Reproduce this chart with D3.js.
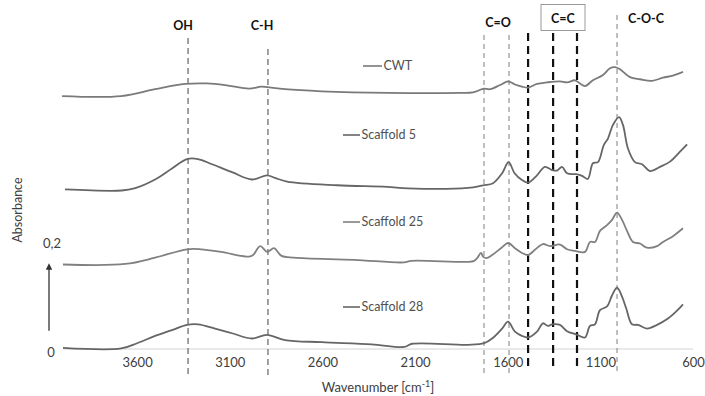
<!DOCTYPE html>
<html><head><meta charset="utf-8">
<script src="https://cdn.jsdelivr.net/npm/d3@7"></script>
<style>body{margin:0;background:#fff}svg{display:block}</style>
</head><body><svg id="c" width="705" height="396"></svg>
<script>
// ---- data ----
const seriesNames = ["CWT", "Scaffold 5", "Scaffold 25", "Scaffold 28"];
const cwt = [[4005,0.482],[3686,0.482],[3503,0.495],[3341,0.505],[3223,0.506],[3110,0.502],[2996,0.496],[2931,0.500],[2898,0.499],[2802,0.495],[2604,0.491],[2246,0.488],[1858,0.488],[1787,0.489],[1739,0.495],[1727,0.496],[1695,0.495],[1641,0.503],[1598,0.510],[1561,0.504],[1523,0.500],[1490,0.498],[1442,0.505],[1388,0.508],[1318,0.510],[1280,0.508],[1237,0.512],[1210,0.506],[1183,0.501],[1140,0.512],[1086,0.522],[1048,0.535],[1021,0.537],[994,0.533],[940,0.518],[886,0.514],[821,0.511],[762,0.517],[708,0.521],[654,0.528]];
const scaffold5 = [[3989,0.304],[3683,0.302],[3615,0.306],[3503,0.323],[3412,0.344],[3331,0.362],[3271,0.362],[3196,0.352],[3088,0.337],[2980,0.323],[2899,0.331],[2856,0.326],[2791,0.319],[2521,0.312],[2251,0.309],[2138,0.306],[1814,0.307],[1733,0.312],[1679,0.316],[1630,0.335],[1595,0.356],[1563,0.335],[1523,0.322],[1490,0.317],[1442,0.331],[1399,0.347],[1361,0.341],[1334,0.340],[1307,0.347],[1280,0.335],[1231,0.333],[1199,0.330],[1168,0.324],[1140,0.354],[1113,0.356],[1081,0.389],[1059,0.401],[1032,0.427],[999,0.442],[978,0.427],[951,0.382],[913,0.356],[875,0.352],[832,0.339],[778,0.347],[724,0.357],[670,0.376],[632,0.390]];
const scaffold25 = [[4000,0.161],[3664,0.162],[3503,0.174],[3330,0.190],[3255,0.190],[3147,0.185],[2996,0.176],[2974,0.179],[2936,0.196],[2898,0.185],[2861,0.192],[2823,0.178],[2753,0.174],[2429,0.170],[2159,0.165],[2121,0.168],[1814,0.166],[1781,0.168],[1765,0.173],[1744,0.183],[1733,0.176],[1716,0.173],[1684,0.179],[1630,0.194],[1598,0.202],[1561,0.192],[1523,0.183],[1490,0.179],[1453,0.189],[1410,0.200],[1372,0.196],[1318,0.199],[1280,0.190],[1237,0.187],[1183,0.185],[1156,0.204],[1129,0.204],[1102,0.225],[1064,0.236],[1037,0.246],[1010,0.260],[983,0.246],[956,0.225],[924,0.204],[886,0.201],[848,0.193],[794,0.196],[762,0.204],[708,0.215],[654,0.230]];
const scaffold28 = [[4000,0.002],[3686,0.001],[3600,0.011],[3503,0.025],[3412,0.036],[3331,0.046],[3271,0.047],[3180,0.039],[3088,0.030],[2980,0.020],[2899,0.027],[2802,0.017],[2604,0.013],[2334,0.009],[2159,0.004],[2116,0.010],[1814,0.008],[1727,0.011],[1684,0.020],[1630,0.039],[1598,0.052],[1561,0.033],[1523,0.025],[1490,0.022],[1442,0.033],[1410,0.049],[1383,0.044],[1361,0.047],[1318,0.046],[1280,0.034],[1231,0.028],[1183,0.022],[1156,0.044],[1129,0.047],[1102,0.074],[1064,0.081],[1037,0.102],[1010,0.117],[983,0.100],[961,0.078],[929,0.047],[897,0.046],[848,0.039],[794,0.046],[735,0.058],[686,0.073],[654,0.085]];
const xTicks = [3600, 3100, 2600, 2100, 1600, 1100, 600];
const scaleBarValues = [0, 0.2];
const scaleBarLabels = ["0", "0,2"];
const bandLabels = ["OH", "C-H", "C=O", "C=C", "C-O-C"];
const bandLines = [3325, 2894, 1728, 1593, 1490, 1355, 1226, 1010];

// ---- chart ----
const svg = d3.select("#c");
const font = "Lato, 'Open Sans', sans-serif";
const x = d3.scaleLinear().domain([4000, 600]).range([63, 693]);
const y = d3.scaleLinear().domain([0, 0.665]).range([349, 0]);

// axis baseline
svg.append("line").attr("x1", x(4000)).attr("x2", x(600)).attr("y1", y(0)).attr("y2", y(0))
  .attr("stroke", "#d4d4d4").attr("stroke-width", 1.2);

// x tick labels via axis
const xAxis = d3.axisBottom(x).tickValues(xTicks).tickSize(0).tickPadding(0).tickFormat(d3.format("d"));
const gx = svg.append("g").attr("transform", `translate(0,${y(0) + 14})`).call(xAxis);
gx.select(".domain").remove();
gx.selectAll("text").attr("font-family", font).attr("font-size", 13).attr("fill", "#404040").attr("dy", "0.32em");

// x title
const xt = svg.append("text").attr("x", 378).attr("y", 392).attr("text-anchor", "middle")
  .attr("font-family", font).attr("font-size", 13).attr("fill", "#404040");
xt.append("tspan").text("Wavenumber [cm");
xt.append("tspan").attr("font-size", 9).attr("dy", -5).text("-1");
xt.append("tspan").attr("dy", 5).text("]");

// y title
svg.append("text").attr("transform", "translate(22,210) rotate(-90)").attr("text-anchor", "middle")
  .attr("font-family", font).attr("font-size", 12.5).attr("fill", "#404040").text("Absorbance");

// scale bar labels + arrow
scaleBarValues.forEach((v, i) => {
  svg.append("text").attr("x", i === 0 ? 51 : 52).attr("y", y(v) + (i === 0 ? 4 : 0))
    .attr("text-anchor", "middle").attr("dy", "0.32em")
    .attr("font-family", font).attr("font-size", 13).attr("fill", "#404040").text(scaleBarLabels[i]);
});
svg.append("defs").append("marker").attr("id", "ah").attr("viewBox", "0 0 10 10")
  .attr("refX", 5).attr("refY", 5).attr("markerWidth", 5).attr("markerHeight", 5).attr("orient", "auto")
  .append("path").attr("d", "M0,0 L10,5 L0,10 z").attr("fill", "#333");
svg.append("line").attr("x1", 49).attr("x2", 49).attr("y1", y(0.035)).attr("y2", y(0.157))
  .attr("stroke", "#333").attr("stroke-width", 1.3).attr("marker-end", "url(#ah)");

// vertical band lines
const lineStyles = [
  {y1: 38, y2: 375, c: "#8a8a8a", w: 1.6, d: "6,4"},
  {y1: 49, y2: 375, c: "#8a8a8a", w: 1.6, d: "6,4"},
  {y1: 35, y2: 373, c: "#8a8a8a", w: 1.1, d: "5,4"},
  {y1: 35, y2: 373, c: "#8a8a8a", w: 1.1, d: "5,4"},
  {y1: 33, y2: 370, c: "#111", w: 2.2, d: "8,5"},
  {y1: 33, y2: 370, c: "#111", w: 2.2, d: "8,5"},
  {y1: 33, y2: 370, c: "#111", w: 2.2, d: "8,5"},
  {y1: 15, y2: 373, c: "#8a8a8a", w: 1.1, d: "5,4"}
];
bandLines.forEach((w, i) => {
  const s = lineStyles[i];
  svg.append("line").attr("x1", x(w)).attr("x2", x(w)).attr("y1", s.y1).attr("y2", s.y2)
    .attr("stroke", s.c).attr("stroke-width", s.w).attr("stroke-dasharray", s.d);
});

// band labels
const labelPos = [[183, 30], [262, 30], [498, 27], [563, 23], [646, 23]];
bandLabels.forEach((t, i) => {
  svg.append("text").attr("x", labelPos[i][0]).attr("y", labelPos[i][1]).attr("text-anchor", "middle")
    .attr("font-family", font).attr("font-weight", "bold").attr("font-size", 12.5).attr("fill", "#111").text(t);
});
svg.append("rect").attr("x", 541).attr("y", 4.5).attr("width", 44).attr("height", 26)
  .attr("fill", "none").attr("stroke", "#9a9a9a").attr("stroke-width", 1);

// curves
const line = d3.line().x(d => x(d[0])).y(d => y(d[1])).curve(d3.curveCatmullRom.alpha(0.5));
const allSeries = [cwt, scaffold5, scaffold25, scaffold28];
const colors = ["#7a7a7a", "#666", "#808080", "#666"];
allSeries.forEach((s, i) => {
  svg.append("path").attr("d", line(s)).attr("fill", "none").attr("stroke", colors[i])
    .attr("stroke-width", 1.8).attr("stroke-linejoin", "round");
});

// curve labels
const legPos = [[363, 382, 66], [343, 360, 135], [343, 360, 222], [343, 360, 307]];
seriesNames.forEach((n, i) => {
  const p = legPos[i];
  svg.append("line").attr("x1", p[0]).attr("x2", p[1]).attr("y1", p[2]).attr("y2", p[2])
    .attr("stroke", colors[i]).attr("stroke-width", 1.6);
  svg.append("text").attr("x", p[1] + 1.5).attr("y", p[2]).attr("dy", "0.35em")
    .attr("font-family", font).attr("font-size", 12.5).attr("fill", "#505050").text(n);
});
</script></body></html>
